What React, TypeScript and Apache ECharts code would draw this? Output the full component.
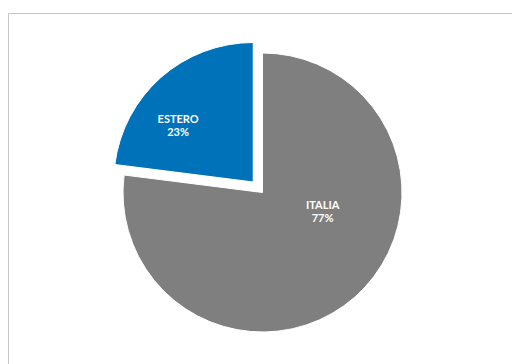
import React, { useEffect, useRef } from "react";
import * as echarts from "echarts";

const categories = ["ITALIA", "ESTERO"];
const values = [77, 23];
const colors = ["#7F7F7F", "#0072BA"];

export default function App() {
  const ref = useRef<HTMLDivElement>(null);
  useEffect(() => {
    if (!ref.current) return;
    const chart = echarts.init(ref.current, null, { renderer: "svg" });
    const labelShift: Record<number, { dx: number; dy: number }> = {
      0: { dx: 12, dy: -36 },
      1: { dx: -27, dy: -2 },
    };
    chart.setOption({
      animation: false,
      backgroundColor: "#ffffff",
      graphic: [
        {
          type: "rect",
          shape: { x: 8.5, y: 13.5, width: 600, height: 400 },
          style: { fill: "none", stroke: "#C6C6C6", lineWidth: 1 },
          silent: true,
        },
      ],
      series: [
        {
          type: "pie",
          center: [262.5, 192.5],
          radius: 139.5,
          startAngle: 90,
          clockwise: true,
          selectedMode: "single",
          selectedOffset: 14,
          emphasis: { disabled: true },
          itemStyle: { borderColor: "#ffffff", borderWidth: 1 },
          label: {
            show: true,
            position: "inside",
            formatter: (p: any) => `${p.name}\n${p.value}%`,
            color: "#ffffff",
            fontFamily: "Lato",
            fontWeight: "bold",
            fontSize: 11,
            lineHeight: 13,
          },
          labelLine: { show: false },
          labelLayout: (p: any) => labelShift[p.dataIndex] || {},
          data: categories.map((c, i) => ({
            name: c,
            value: values[i],
            selected: i === 1,
            itemStyle: { color: colors[i] },
          })),
        },
      ],
    });
    return () => chart.dispose();
  }, []);
  return (
    <div
      ref={ref}
      style={{ position: "fixed", left: 0, top: 0, width: 512, height: 364 }}
    />
  );
}
